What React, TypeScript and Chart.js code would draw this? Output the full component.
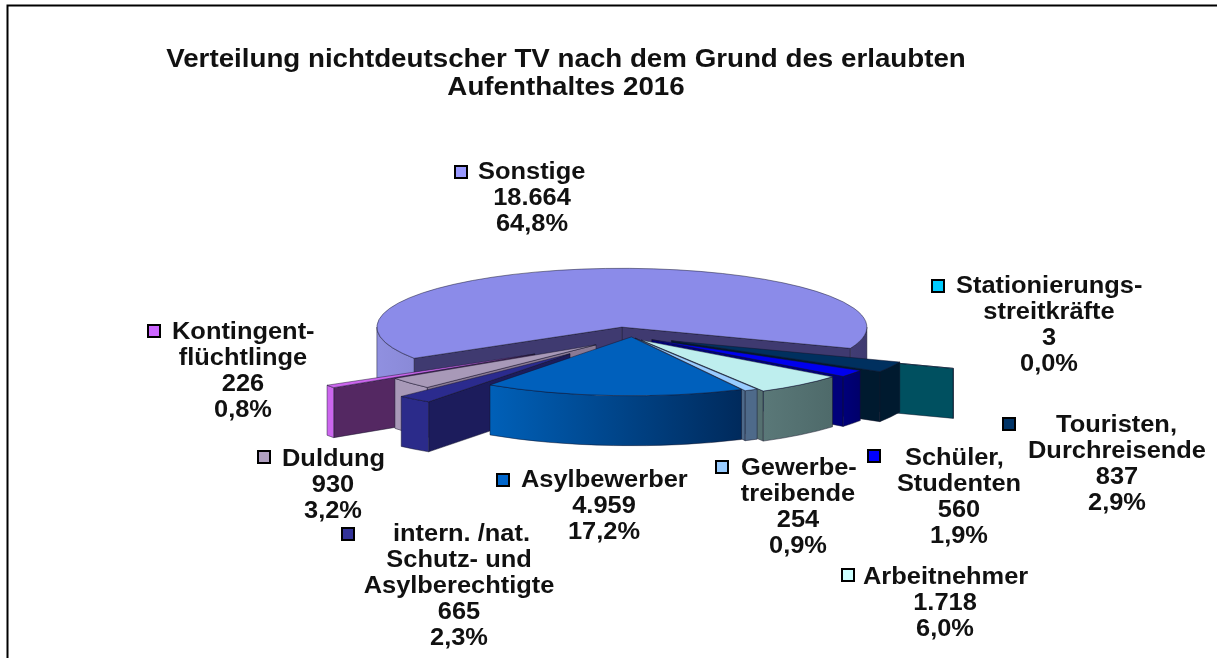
import React, { useEffect, useRef } from "react";
import { Chart, registerables } from "chart.js";

Chart.register(...registerables);

const titleLines = ["Verteilung nichtdeutscher TV nach dem Grund des erlaubten", "Aufenthaltes 2016"];
const categories = ["Sonstige", "Stationierungsstreitkräfte", "Touristen, Durchreisende", "Schüler, Studenten", "Arbeitnehmer", "Gewerbetreibende", "Asylbewerber", "intern./nat. Schutz- und Asylberechtigte", "Duldung", "Kontingentflüchtlinge"];
const values = [18664, 3, 837, 560, 1718, 254, 4959, 665, 930, 226];
const nameLines = [["Sonstige"], ["Stationierungs-", "streitkräfte"], ["Touristen,", "Durchreisende"], ["Schüler,", "Studenten"], ["Arbeitnehmer"], ["Gewerbe-", "treibende"], ["Asylbewerber"], ["intern. /nat.", "Schutz- und", "Asylberechtigte"], ["Duldung"], ["Kontingent-", "flüchtlinge"]];
const valueText = ["18.664", "3", "837", "560", "1.718", "254", "4.959", "665", "930", "226"];
const percentText = ["64,8%", "0,0%", "2,9%", "1,9%", "6,0%", "0,9%", "17,2%", "2,3%", "3,2%", "0,8%"];

const explode = [33, 105, 54, 34, 28, 15, 8, 96, 50, 114];
const topColors = ["#8B8BE9", "#00CCFF", "#00305F", "#0000EE", "#BEEEEE", "#99CCFF", "#0060BC", "#2B2B8E", "#A899B8", "#CC66EE"];
const legendColors = ["#9999FF", "#00CCFF", "#003366", "#0000FF", "#CCFFFF", "#99CCFF", "#0066CC", "#333399", "#B0A0C0", "#CC66FF"];
const radialColors = ["#3F3A70", "#005060", "#001A2F", "#00007A", "#557070", "#4E6A8A", "#002A5C", "#1C1C5C", "#8A7A95", "#542862"];
const outerLeft = ["#9090E0", "#005060", "#001A2F", "#00007A", "#5A7878", "#4E6A8A", "#0060B8", "#2B2B8A", "#A899B8", "#CC66EE"];
const outerRight = ["#3F3A70", "#005060", "#001A2F", "#00006A", "#4E6A6A", "#4E6A8A", "#002A5C", "#2B2B8A", "#A899B8", "#CC66EE"];
const paintOrder = [0, 1, 2, 3, 4, 5, 9, 8, 7, 6];

const SQUASH = 0.24;
const DEPTH = 50;
// Small perspective corrections of each slice on screen
const nudgeX = [3, 5, 1, 2, 1, 6, 10, 9, 12, 8];
const nudgeY = [0, 3, 0, 0, 0, 0, 0, 1, 2, 4];

const labelLayout = [
  { sq: [461, 172], firstX: 478, cx: 532, y: 173 },
  { sq: [938, 286], firstX: 956, cx: 1049, y: 287 },
  { sq: [1009, 424], firstX: 1056, cx: 1117, y: 426 },
  { sq: [874, 456], firstX: 905, cx: 959, y: 459 },
  { sq: [848, 575], firstX: 863, cx: 945, y: 578 },
  { sq: [722, 467], firstX: 741, cx: 798, y: 469 },
  { sq: [503, 480], firstX: 521, cx: 604, y: 481 },
  { sq: [348, 534], firstX: 393, cx: 459, y: 535 },
  { sq: [264, 457], firstX: 282, cx: 333, y: 460 },
  { sq: [154, 331], firstX: 172, cx: 243, y: 333 },
];

const pie3d = {
  id: "pie3d",
  beforeDatasetDraw() {
    return false;
  },
  afterDatasetsDraw(chart: any) {
    const ctx = chart.ctx as CanvasRenderingContext2D;
    const arcs = chart.getDatasetMeta(0).data;
    for (const i of paintOrder) {
      const a = arcs[i];
      const s = a.startAngle as number;
      const e = a.endAngle as number;
      const r = a.outerRadius as number;
      const mid = (s + e) / 2;
      const off = a.options.offset as number;
      const ax = a.x + Math.cos(mid) * off + nudgeX[i];
      const ay = a.y + Math.sin(mid) * off * SQUASH + nudgeY[i];
      const px = (t: number) => ax + r * Math.cos(t);
      const py = (t: number) => ay + r * SQUASH * Math.sin(t);
      ctx.save();
      ctx.lineWidth = 0.6;
      ctx.strokeStyle = "rgba(20,20,40,0.8)";
      ctx.lineJoin = "round";

      const radial = (t: number) => {
        ctx.beginPath();
        ctx.moveTo(ax, ay);
        ctx.lineTo(px(t), py(t));
        ctx.lineTo(px(t), py(t) + DEPTH);
        ctx.lineTo(ax, ay + DEPTH);
        ctx.closePath();
        ctx.fillStyle = radialColors[i];
        ctx.fill();
        ctx.stroke();
      };
      if (Math.cos(e) > 0) radial(e);
      if (Math.cos(s) < 0) radial(s);

      const segments: [number, number][] = [];
      for (let k = 0; k < 2; k++) {
        const lo = Math.max(s, 2 * Math.PI * k);
        const hi = Math.min(e, Math.PI + 2 * Math.PI * k);
        if (hi > lo) segments.push([lo, hi]);
      }
      if (segments.length) {
        const xs = segments.flat().map(px);
        const g = ctx.createLinearGradient(Math.min(...xs), 0, Math.max(Math.max(...xs), Math.min(...xs) + 1), 0);
        g.addColorStop(0, outerLeft[i]);
        g.addColorStop(1, outerRight[i]);
        for (const [lo, hi] of segments) {
          ctx.beginPath();
          ctx.ellipse(ax, ay, r, r * SQUASH, 0, lo, hi, false);
          ctx.ellipse(ax, ay + DEPTH, r, r * SQUASH, 0, hi, lo, true);
          ctx.closePath();
          ctx.fillStyle = g;
          ctx.fill();
          ctx.stroke();
        }
      }

      ctx.beginPath();
      ctx.moveTo(ax, ay);
      ctx.ellipse(ax, ay, r, r * SQUASH, 0, s, e, false);
      ctx.closePath();
      ctx.fillStyle = a.options.backgroundColor;
      ctx.fill();
      ctx.stroke();
      ctx.restore();
    }
  },
  afterDraw(chart: any) {
    const ctx = chart.ctx as CanvasRenderingContext2D;
    const text = (t: string, x: number, y: number, align: CanvasTextAlign, stretch: number) => {
      ctx.save();
      ctx.translate(x, y);
      ctx.scale(stretch, 1);
      ctx.textAlign = align;
      ctx.fillText(t, 0, 0);
      ctx.restore();
    };
    ctx.save();
    ctx.strokeStyle = "#000";
    ctx.lineWidth = 2;
    ctx.beginPath();
    ctx.moveTo(7.5, 658);
    ctx.lineTo(7.5, 5.5);
    ctx.lineTo(1217, 5.5);
    ctx.stroke();

    ctx.filter = "blur(0.4px)";
    ctx.fillStyle = "#111";
    ctx.textBaseline = "middle";
    ctx.font = 'bold 25px "Liberation Sans"';
    titleLines.forEach((t, n) => text(t, 566, 60 + n * 28, "center", 1.109));

    ctx.font = 'bold 23px "Liberation Sans"';
    labelLayout.forEach((l, i) => {
      const lines = [...nameLines[i], valueText[i], percentText[i]];
      ctx.fillStyle = legendColors[i];
      ctx.fillRect(l.sq[0] - 6, l.sq[1] - 6, 12, 12);
      ctx.strokeStyle = "#000";
      ctx.lineWidth = 2;
      ctx.strokeRect(l.sq[0] - 6, l.sq[1] - 6, 12, 12);
      ctx.fillStyle = "#111";
      lines.forEach((t, n) => {
        const y = l.y + n * 26;
        if (n === 0) text(t, l.firstX, y, "left", 1.105);
        else text(t, l.cx, y, "center", 1.105);
      });
    });
    ctx.restore();
  },
};

export default function App() {
  const ref = useRef<HTMLCanvasElement>(null);
  useEffect(() => {
    const chart = new Chart(ref.current!, {
      type: "pie",
      data: {
        labels: categories,
        datasets: [{ data: values, backgroundColor: topColors, offset: explode, borderWidth: 0 }],
      },
      options: {
        responsive: false,
        animation: false,
        rotation: 238,
        radius: 245,
        layout: { padding: { left: 27, right: 0, top: 11, bottom: 0 } },
        plugins: { legend: { display: false }, tooltip: { enabled: false }, title: { display: false } },
      },
      plugins: [pie3d],
    } as any);
    return () => chart.destroy();
  }, []);
  return (
    <canvas
      ref={ref}
      width={1217}
      height={659}
      style={{ position: "absolute", left: 0, top: 0, width: 1217, height: 659, display: "block", background: "#fff" }}
    />
  );
}
